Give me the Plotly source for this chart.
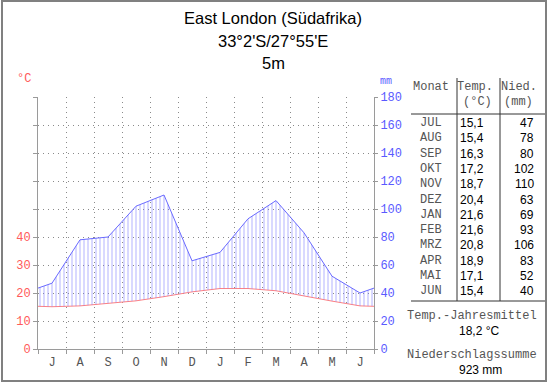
import plotly.graph_objects as go

months_tab = ["JUL", "AUG", "SEP", "OKT", "NOV", "DEZ", "JAN", "FEB", "MRZ", "APR", "MAI", "JUN"]
month_letters = ["J", "A", "S", "O", "N", "D", "J", "F", "M", "A", "M", "J"]
temp = [15.1, 15.4, 16.3, 17.2, 18.7, 20.4, 21.6, 21.6, 20.8, 18.9, 17.1, 15.4]
precip = [47, 78, 80, 102, 110, 63, 69, 93, 106, 83, 52, 40]
temp_mean = "18,2 °C"
precip_sum = "923 mm"

W, H = 550, 384
L, R, T, B = 38, 374, 97, 349


def px(x):
    return (x - L) / (R - L)


def py(y):
    return (B - y) / (B - T)


# cyclic extension so the curves run to the plot edges (clipped by the axis range)
n = len(temp)
xs = [i + 0.5 for i in range(-1, n + 1)]
temp_c = [temp[-1]] + temp + [temp[0]]
precip_c = [precip[-1]] + precip + [precip[0]]
temp_mm = [t * 2 for t in temp_c]  # Walter-Lieth scale: 10 °C = 20 mm

MONO = "Liberation Mono"
SANS = "Liberation Sans"
RED = "#ff5a5a"
BLUE = "#5a5aff"
GRAYTXT = "#555555"

fig = go.Figure()
fig.add_trace(go.Scatter(x=xs, y=temp_mm, yaxis="y2", mode="lines",
                         line=dict(color="rgba(0,0,0,0)", width=0),
                         hoverinfo="skip", showlegend=False))
fig.add_trace(go.Scatter(x=xs, y=precip_c, yaxis="y2", mode="lines",
                         line=dict(color="#6a6aff", width=1),
                         fill="tonexty", fillcolor="rgba(0,0,0,0)",
                         fillpattern=dict(shape="|", size=4, solidity=0.3,
                                          fgcolor="#8080ff"),
                         showlegend=False))
fig.add_trace(go.Scatter(x=xs, y=temp_c, yaxis="y", mode="lines",
                         line=dict(color="#ff8080", width=1), showlegend=False))

fig.update_layout(
    width=W, height=H,
    margin=dict(l=L, r=W - R, t=T, b=H - B, pad=0),
    paper_bgcolor="white", plot_bgcolor="white",
    xaxis=dict(range=[0, 12], tickvals=[i + 0.5 for i in range(12)], ticktext=month_letters,
               ticks="", showgrid=False, zeroline=False,
               showline=True, linecolor="#9a9a9a", linewidth=1,
               tickfont=dict(family=MONO, size=12, color=GRAYTXT),
               ticklabelstandoff=2,
               minor=dict(tickvals=list(range(13)), ticks="outside", ticklen=4,
                          tickcolor="#9a9a9a", showgrid=True, gridcolor="#8a8a8a",
                          griddash="1px,4px", gridwidth=1)),
    yaxis=dict(range=[0, 90], tickvals=list(range(0, 100, 10)),
               ticktext=["0", "10", "20", "30", "40", "", "", "", "", ""],
               ticks="outside", ticklen=4, tickcolor="#9a9a9a",
               showline=True, linecolor="#9a9a9a", linewidth=1,
               showgrid=False, zeroline=False,
               tickfont=dict(family=MONO, size=12, color=RED)),
    yaxis2=dict(range=[0, 180], tickvals=list(range(0, 200, 20)),
                overlaying="y", side="right",
                ticks="outside", ticklen=3, tickcolor="#9a9a9a",
                showline=True, linecolor="#9a9a9a", linewidth=1,
                showgrid=True, gridcolor="#8a8a8a", griddash="1px,4px",
                zeroline=False,
                tickfont=dict(family=MONO, size=12, color=BLUE)),
)

ann = []


def text(x, y, s, family=SANS, size=12, color="#222222", xanchor="center"):
    ann.append(dict(x=px(x), y=py(y), xref="paper", yref="paper", text=s,
                    showarrow=False, xanchor=xanchor, yanchor="middle",
                    font=dict(family=family, size=size, color=color)))


text(273, 18, "East London (Südafrika)", size=16.5, color="#000000")
text(273, 41, "33°2'S/27°55'E", size=16.5, color="#000000")
text(273, 63, "5m", size=16.5, color="#000000")
text(24, 79, "°C", family=MONO, size=12, color=RED)
text(386, 81, "mm", family=MONO, size=10, color=BLUE)

text(431, 87, "Monat", family=MONO, color=GRAYTXT)
text(475, 87, "Temp.", family=MONO, color=GRAYTXT)
text(477, 102, "(°C)", family=MONO, color=GRAYTXT)
text(519, 87, "Nied.", family=MONO, color=GRAYTXT)
text(518, 102, "(mm)", family=MONO, color=GRAYTXT)
for i in range(n):
    y = 123 + i * 15.3
    text(431, y, months_tab[i], family=MONO, color=GRAYTXT)
    text(472, y, f"{temp[i]:.1f}".replace(".", ","), color="#000000")
    text(536, y, str(precip[i]), xanchor="right", color="#000000")
text(472, 316, "Temp.-Jahresmittel", family=MONO, color=GRAYTXT)
text(479, 331, temp_mean, color="#000000")
text(472, 355, "Niederschlagssumme", family=MONO, color=GRAYTXT)
text(480, 370, precip_sum, color="#000000")

shapes = []


def line(x0, y0, x1, y1, color="#333333", width=1):
    shapes.append(dict(type="line", xref="paper", yref="paper",
                       x0=px(x0), y0=py(y0), x1=px(x1), y1=py(y1),
                       line=dict(color=color, width=width)))


line(457, 78, 457, 301)
line(500, 78, 500, 301)
line(411, 114, 546, 114)
line(411, 301, 546, 301)
# frame
shapes.append(dict(type="rect", xref="paper", yref="paper",
                   x0=px(2), y0=py(1), x1=px(546), y1=py(381),
                   line=dict(color="#808080", width=2)))

fig.update_layout(annotations=ann, shapes=shapes)
fig.write_html("out.html", config={"displayModeBar": False},
               post_script="document.body.style.margin='0';document.body.style.overflow='hidden';")
